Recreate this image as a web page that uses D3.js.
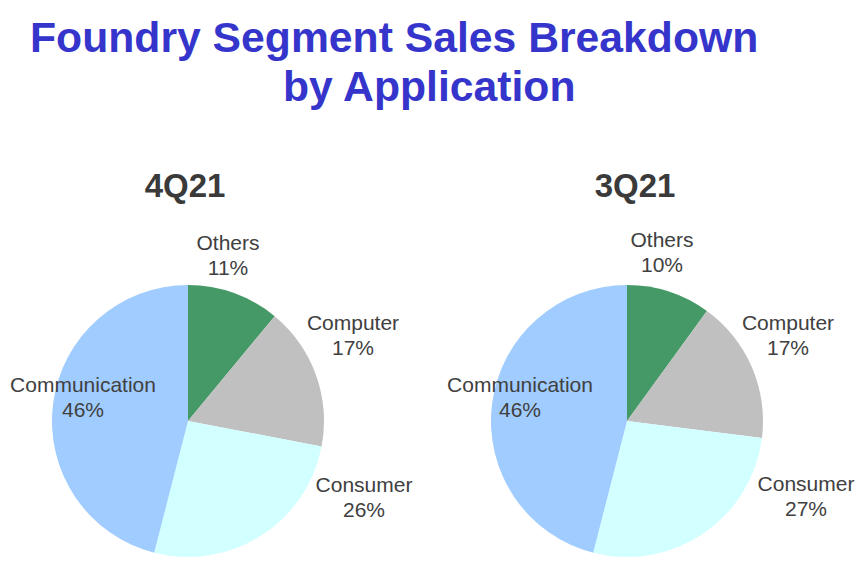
<!DOCTYPE html>
<html>
<head>
<meta charset="utf-8">
<script src="https://cdn.jsdelivr.net/npm/d3@7"></script>
<style>
  body { margin: 0; background: #fff; }
  text { font-family: "Liberation Sans", Arial, sans-serif; }
</style>
</head>
<body>
<div id="chart"></div>
<script>
const categories = ["Others", "Computer", "Consumer", "Communication"];
const values4Q21 = [11, 17, 26, 46];
const values3Q21 = [10, 17, 27, 46];
const periods = ["4Q21", "3Q21"];

const COLORS = ["#449966", "#c0c0c0", "#d2ffff", "#a0ccff"];
const WIDTH = 865, HEIGHT = 565;
const RADIUS = 136;

// where each pie sits, and where its labels go (offset from pie centre, first line baseline)
const LAYOUT = [
  { cx: 188, cy: 421, titleX: 185, labels: [[40, -171], [165, -91], [176, 71], [-105, -29]] },
  { cx: 627, cy: 421, titleX: 635, labels: [[35, -174], [161, -91], [179, 70], [-107, -29]] }
];

const svg = d3.select("#chart")
  .append("svg")
  .attr("width", WIDTH)
  .attr("height", HEIGHT);

// title
svg.append("text")
  .attr("x", 30)
  .attr("y", 52)
  .attr("font-size", "42.7px")
  .attr("font-weight", "bold")
  .attr("fill", "#3535cc")
  .text("Foundry Segment Sales Breakdown");

svg.append("text")
  .attr("x", 283)
  .attr("y", 101)
  .attr("font-size", "42.7px")
  .attr("font-weight", "bold")
  .attr("fill", "#3535cc")
  .text("by Application");

const pie = d3.pie().sort(null).value(d => d);
const arc = d3.arc().innerRadius(0).outerRadius(RADIUS);

[values4Q21, values3Q21].forEach((values, i) => {
  const lay = LAYOUT[i];

  svg.append("text")
    .attr("x", lay.titleX)
    .attr("y", 197)
    .attr("text-anchor", "middle")
    .attr("font-size", "33px")
    .attr("font-weight", "bold")
    .attr("fill", "#3a3a3a")
    .text(periods[i]);

  const g = svg.append("g")
    .attr("transform", `translate(${lay.cx}, ${lay.cy})`);

  g.selectAll("path")
    .data(pie(values))
    .enter().append("path")
    .attr("d", arc)
    .attr("fill", (d, j) => COLORS[j]);

  const lbl = g.selectAll(".label")
    .data(values)
    .enter().append("text")
    .attr("class", "label")
    .attr("text-anchor", "middle")
    .attr("font-size", "21px")
    .attr("fill", "#404040")
    .attr("transform", (d, j) => `translate(${lay.labels[j][0]}, ${lay.labels[j][1]})`);

  lbl.append("tspan")
    .attr("x", 0)
    .attr("y", 0)
    .text((d, j) => categories[j]);

  lbl.append("tspan")
    .attr("x", 0)
    .attr("y", 25)
    .text(d => d + "%");
});
</script>
</body>
</html>
